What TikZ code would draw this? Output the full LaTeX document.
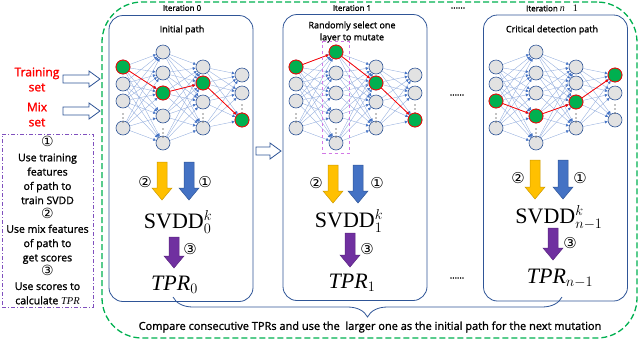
\documentclass[tikz,border=0pt]{standalone}
\usepackage{amsmath}
\usepackage{fontspec}
\setmainfont{Open Sans}[FakeBold=1.4]
\newfontfamily\tmsfont{Liberation Serif}
\newfontfamily\symfont{DejaVu Sans}
\usepackage{xcolor}
\usepackage{tikz}
\usetikzlibrary{positioning,arrows.meta,calc,decorations.pathreplacing,fit}
\definecolor{panelblue}{RGB}{47,85,151}
\definecolor{linkblue}{RGB}{143,170,220}
\definecolor{tipblue}{RGB}{68,114,196}
\definecolor{pathgreen}{RGB}{0,176,80}
\definecolor{arrowgold}{RGB}{255,192,0}
\definecolor{arrowsteel}{RGB}{68,114,196}
\definecolor{arrowplum}{RGB}{112,48,160}
\definecolor{legendviolet}{RGB}{128,80,190}
\definecolor{mutpink}{RGB}{210,120,230}
\definecolor{nodegray}{RGB}{226,226,226}
\newcommand{\hollowright}[3]{%
  \draw[panelblue, line width=0.8pt, fill=white]
    (#1,#3-4) -- (#2-11,#3-4) -- (#2-11,#3-8) -- (#2,#3) -- (#2-11,#3+8)
    -- (#2-11,#3+4) -- (#1,#3+4) -- cycle;%
}
\newcommand{\fatdown}[5]{%
  \filldraw[fill=#4, draw=#5, line width=0.5pt]
    (#1-5,#2) -- (#1+5,#2) -- (#1+5,#3-12) -- (#1+10,#3-12) -- (#1,#3)
    -- (#1-10,#3-12) -- (#1-5,#3-12) -- cycle;%
}

\begin{document}
\begin{tikzpicture}[
  x=1pt, y=-1pt,
  every node/.style={font=\small},
  neuron/.style={circle, draw=panelblue, fill=nodegray, line width=0.6pt, minimum size=14pt, inner sep=0pt},
  hotneuron/.style={neuron, draw=red, fill=pathgreen, line width=0.8pt},
  link/.style={linkblue, line width=0.35pt, -{Latex[length=3pt,width=3pt,color=tipblue]}},
  hotlink/.style={red, line width=0.8pt, -{Latex[length=3.5pt,width=3pt]}},
  gap/.style={font=\fontsize{7}{7}\selectfont, inner sep=0pt},
  panel/.style={draw=panelblue, line width=0.8pt, rounded corners=14pt, minimum width=144pt, minimum height=286pt},
  iterlabel/.style={font=\fontsize{8}{9}\selectfont, inner sep=1pt},
  title/.style={font=\fontsize{9}{12}\selectfont, align=center, inner sep=1pt},
  setlabel/.style={font=\fontsize{12}{15}\selectfont, text=red, align=center, inner sep=1pt},
  num/.style={font=\symfont\fontsize{15}{15}\selectfont, inner sep=0pt},
  bigmath/.style={font=\tmsfont\fontsize{22}{24}\selectfont, inner sep=0pt, anchor=base},
  dotsrow/.style={font=\fontsize{9}{9}\selectfont, inner sep=0pt},
]
\useasboundingbox (0,0) rectangle (640,341);

% ---------------- outer loop and legend ----------------
\node[draw=pathgreen, line width=1.3pt, dash pattern=on 6pt off 3pt, rounded corners=40pt,
      minimum width=535pt, minimum height=336pt] (loop) at (369.5,170) {};
\node[draw=legendviolet, line width=0.8pt, dash pattern=on 4pt off 2pt on 1pt off 2pt,
      minimum width=91pt, minimum height=173pt, align=center, inner sep=0pt,
      font=\fontsize{10.5}{14.3}\selectfont] (legend) at (47.5,220.5)
  {{\symfont\fontsize{14}{14}\selectfont ①}\\Use training\\features\\of path to\\train SVDD\\{\symfont\fontsize{14}{14}\selectfont ②}\\Use mix features\\of path to\\get scores\\{\symfont\fontsize{14}{14}\selectfont ③}\\Use scores to\\calculate {\tmsfont\itshape TPR}};

% ---------------- panels ----------------
\node[panel] (box0) at (181,158.5) {};
\node[panel] (box1) at (355,157.5) {};
\node[panel] (box2) at (555.5,158) {};

\node[iterlabel] (it0) at (182,8) {Iteration 0};
\node[iterlabel] (it1) at (352,8) {Iteration 1};
\node[iterlabel] (it2) at (552,8) {Iteration {\tmsfont\itshape\fontsize{10}{10}\selectfont n}\hspace{8pt}{\tmsfont\fontsize{10}{10}\selectfont 1}};

\node[title] (t0) at (182,30) {Initial path};
\node[title] (t1) at (352,32) {Randomly select one\\layer to mutate};
\node[title] (t2) at (552,30) {Critical detection path};

\node[setlabel] (train) at (37,79.5) {Training\\set};
\node[setlabel] (mix) at (37,114.5) {Mix\\set};
\hollowright{63}{100}{79}
\hollowright{63}{100}{111}
\hollowright{256}{281}{151}

% ---------------- networks ----------------
\foreach \p/\px in {0/110,1/283,2/483}{
  \foreach \l/\dx/\ys in {1/13/{67,84,101,128},2/53/{52,73,93,116,143},3/93/{67,83,102,128},4/132/{75,93,120}}{
    \foreach \y [count=\i] in \ys
      \node[neuron] (n\p-\l-\i) at (\px+\dx,\y) {};
  }
  \foreach \l/\m/\na/\nb in {1/2/4/5,2/3/5/4,3/4/4/3}{
    \foreach \a in {1,...,\na}
      \foreach \b in {1,...,\nb}
        \draw[link] (n\p-\l-\a) -- (n\p-\m-\b);
  }
  \foreach \l/\dx/\y in {1/13/115,2/53/130,3/93/115,4/132/106}
    \node[gap] (d\p-\l) at (\px+\dx,\y) {$\vdots$};
}

% selected path in every iteration
\foreach \n in {n0-1-1,n0-2-3,n0-3-2,n0-4-3,n1-1-1,n1-2-1,n1-3-2,n1-4-3,n2-1-3,n2-2-4,n2-3-3,n2-4-1}
  \node[hotneuron] (h\n) at (\n) {};
\foreach \a/\b in {n0-1-1/n0-2-3,n0-2-3/n0-3-2,n0-3-2/n0-4-3,
                   n1-1-1/n1-2-1,n1-2-1/n1-3-2,n1-3-2/n1-4-3,
                   n2-1-3/n2-2-4,n2-2-4/n2-3-3,n2-3-3/n2-4-1}
  \draw[hotlink] (h\a) -- (h\b);

\node[draw=mutpink, line width=0.8pt, dashed, inner xsep=6pt, inner ysep=3pt,
      fit=(n1-2-1)(n1-2-5)] (mut) {};

% ---------------- SVDD and TPR ----------------
\fatdown{162}{162}{200}{arrowgold}{arrowgold!80!black}
\fatdown{189}{162}{200}{arrowsteel}{panelblue}
\fatdown{174}{237}{268}{arrowplum}{arrowplum!80!black}
\fatdown{333}{165}{203}{arrowgold}{arrowgold!80!black}
\fatdown{358}{165}{203}{arrowsteel}{panelblue}
\fatdown{350}{233}{267}{arrowplum}{arrowplum!80!black}
\fatdown{535}{160}{199}{arrowgold}{arrowgold!80!black}
\fatdown{563}{160}{199}{arrowsteel}{panelblue}
\fatdown{553}{228}{260}{arrowplum}{arrowplum!80!black}

\node[num] (c0b) at (145,182) {②};
\node[num] (c0a) at (205,182) {①};
\node[num] (c0c) at (190,249) {③};
\node[num] (c1b) at (316,183) {②};
\node[num] (c1a) at (377,183) {①};
\node[num] (c1c) at (367,249) {③};
\node[num] (c2b) at (518,178) {②};
\node[num] (c2a) at (580,178) {①};
\node[num] (c2c) at (570,243) {③};

\node[bigmath] (svdd0) at (178,228) {SVDD$^{k}_{0}$};
\node[bigmath] (svdd1) at (349,227) {SVDD$^{k}_{1}$};
\node[bigmath] (svdd2) at (559,223) {SVDD$^{k}_{n-1}$};
\node[bigmath] (tpr0) at (174.5,290) {\itshape TPR\upshape$_{0}$};
\node[bigmath] (tpr1) at (352,288) {\itshape TPR\upshape$_{1}$};
\node[bigmath] (tpr2) at (560,283) {\itshape TPR\upshape$_{n-1}$};

\node[dotsrow] (dtop) at (458,8) {......};
\node[dotsrow] (dmid) at (457,95) {......};
\node[dotsrow] (dbot) at (457,278) {......};

% ---------------- comparison ----------------
\coordinate (braceL) at (173,297);
\coordinate (braceR) at (562,297);
\draw[panelblue, line width=0.8pt, decorate, decoration={brace, mirror, amplitude=20pt}] (braceL) -- (braceR);
\node[font=\fontsize{11}{12}\selectfont, inner sep=1pt] (note) at (370,327)
  {Compare consecutive TPRs and use the\ \ larger one as the initial path for the next mutation};
\end{tikzpicture}
\end{document}
